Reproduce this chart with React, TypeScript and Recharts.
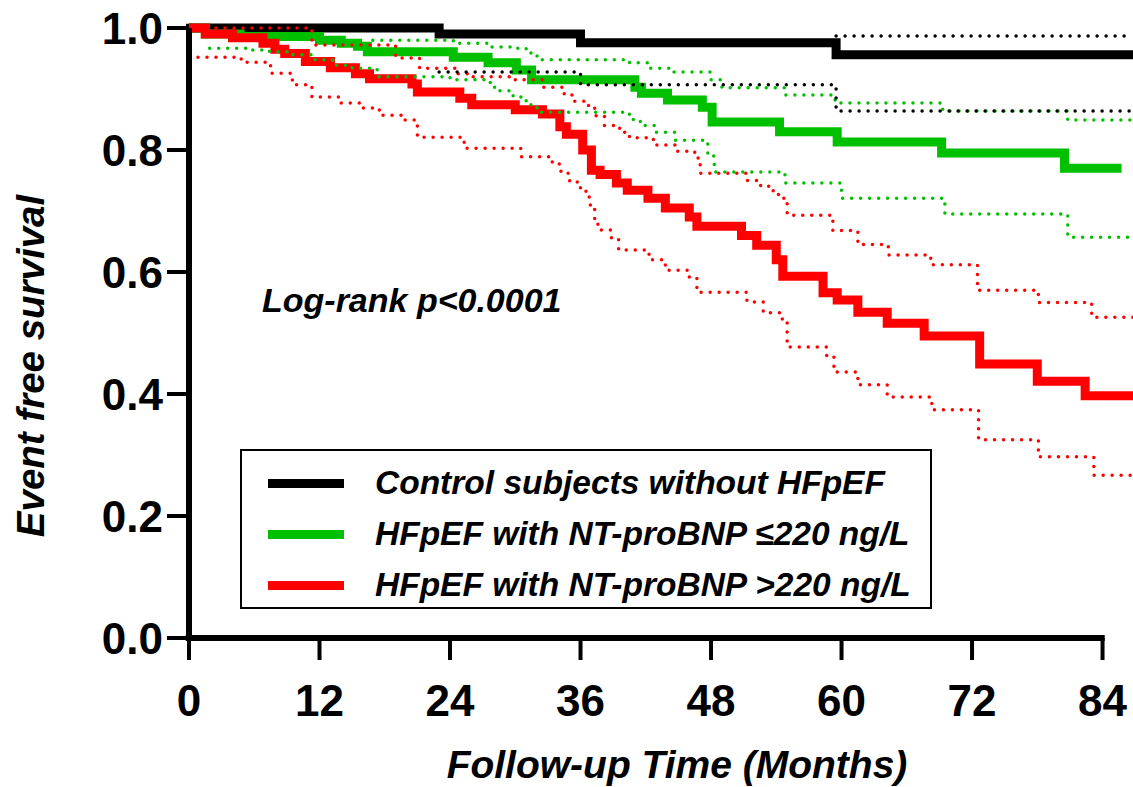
import { LineChart, Line, XAxis, YAxis, ReferenceLine, Legend } from 'recharts';

const FONT = '"Liberation Sans", Arial, Helvetica, sans-serif';
const GREEN = '#00c000';
const RED = '#ff0000';

// follow-up in months, survival as a fraction
const monthTicks = [0, 12, 24, 36, 48, 60, 72, 84];
const survivalTicks = [0, 0.2, 0.4, 0.6, 0.8, 1.0];
const END = 86.8;

// [month, survival] steps
const control = [[0, 1.0], [23, 0.99], [36, 0.976], [59.5, 0.956], [END, 0.956]];
const controlUpper = [[59.5, 0.987], [END, 0.987]];
const controlLower = [[23, 0.928], [36, 0.907], [59.5, 0.864], [END, 0.864]];

const lowBnp = [
  [0, 1.0], [1.5, 0.99], [4.7, 0.986], [12, 0.98], [14, 0.975], [15.5, 0.97], [16.4, 0.961],
  [24.3, 0.952], [27.5, 0.943], [30.1, 0.931], [31.5, 0.915], [41, 0.903], [41.6, 0.893],
  [44, 0.882], [47.2, 0.87], [48.1, 0.846], [54.3, 0.83], [59.6, 0.813], [69.2, 0.795],
  [80.5, 0.77], [85.75, 0.77],
];
const lowBnpUpper = [
  [16.9, 0.98], [24.3, 0.975], [27.7, 0.969], [29.8, 0.967], [31, 0.959], [32, 0.948],
  [40.5, 0.943], [42.2, 0.934], [44.4, 0.928], [47.9, 0.915], [49, 0.902], [54.8, 0.89],
  [59.4, 0.877], [69.3, 0.864], [80.8, 0.849], [END, 0.849],
];
const lowBnpLower = [
  [1.9, 0.967], [5.4, 0.964], [7.4, 0.961], [9.3, 0.956], [11.4, 0.948], [13.2, 0.939],
  [15, 0.934], [17.3, 0.92], [24, 0.915], [27.7, 0.906], [28.1, 0.897], [29.8, 0.887],
  [31, 0.874], [32, 0.862], [40.5, 0.85], [41.5, 0.84], [42.8, 0.829], [44.7, 0.816],
  [47.7, 0.79], [48.3, 0.764], [54.8, 0.746], [60, 0.721], [69.5, 0.695], [80.8, 0.657],
  [END, 0.657],
];

const highBnp = [
  [0, 1.0], [1.5, 0.99], [4, 0.984], [6.8, 0.975], [7.9, 0.965], [8.8, 0.958], [10.7, 0.945],
  [13, 0.935], [15.3, 0.925], [16.6, 0.917], [20.5, 0.908], [21, 0.895], [24.9, 0.885],
  [26, 0.874], [30, 0.866], [32.5, 0.859], [34.1, 0.838], [34.7, 0.826], [36.2, 0.8],
  [37, 0.767], [37.8, 0.76], [39.3, 0.746], [40.3, 0.734], [42.2, 0.721], [43.8, 0.705],
  [46, 0.69], [46.7, 0.675], [50.8, 0.66], [52.2, 0.644], [54, 0.62], [54.6, 0.593],
  [58.3, 0.566], [59.6, 0.554], [61.5, 0.534], [64.2, 0.516], [67.6, 0.495], [72.7, 0.449],
  [78, 0.421], [82.4, 0.397], [END, 0.397],
];
const highBnpUpper = [
  [0, 1.0], [11.3, 0.972], [19, 0.951], [21.2, 0.934], [24.5, 0.925], [26, 0.92], [30, 0.915],
  [32.5, 0.903], [34.5, 0.89], [35.4, 0.88], [36.6, 0.873], [37.3, 0.856], [38.2, 0.84],
  [39.6, 0.829], [40.5, 0.82], [42.7, 0.808], [44.9, 0.798], [46.5, 0.787], [47, 0.762],
  [51.2, 0.75], [52.3, 0.742], [53.3, 0.733], [54.2, 0.721], [55, 0.693], [59.2, 0.668],
  [61.5, 0.645], [64.3, 0.628], [68.2, 0.612], [72.5, 0.57], [78.1, 0.55], [83, 0.526],
  [END, 0.526],
];
const highBnpLower = [
  [0, 0.952], [4.8, 0.944], [7.5, 0.926], [9.5, 0.907], [11.3, 0.887], [13.8, 0.877],
  [15.8, 0.869], [17.5, 0.857], [19.5, 0.849], [21, 0.821], [25.3, 0.803], [30.5, 0.789],
  [33.4, 0.777], [34.2, 0.762], [35, 0.748], [35.7, 0.738], [36.5, 0.731], [36.8, 0.71],
  [37.3, 0.685], [37.6, 0.669], [38.8, 0.656], [39.5, 0.636], [42.3, 0.62], [43.8, 0.603],
  [46, 0.59], [46.7, 0.567], [51.3, 0.551], [52.8, 0.533], [54.3, 0.523], [55, 0.477],
  [58.6, 0.463], [59.3, 0.436], [61.5, 0.415], [64.2, 0.395], [68.3, 0.374], [72.6, 0.325],
  [78.1, 0.297], [83.2, 0.267], [END, 0.267],
];

const legendLabels = [
  'Control subjects without HFpEF',
  'HFpEF with NT-proBNP ≤220 ng/L',
  'HFpEF with NT-proBNP >220 ng/L',
];
const legendColors = ['#000', GREEN, RED];

const toPoints = (steps: number[][]) => steps.map(([t, s]) => ({ t, s }));

const mainCurves = [
  { id: 'control', steps: control, color: '#000' },
  { id: 'low', steps: lowBnp, color: GREEN },
  { id: 'high', steps: highBnp, color: RED },
];
const ciCurves = [
  { id: 'lowUp', steps: lowBnpUpper, color: GREEN },
  { id: 'lowLo', steps: lowBnpLower, color: GREEN },
  { id: 'highUp', steps: highBnpUpper, color: RED },
  { id: 'highLo', steps: highBnpLower, color: RED },
  { id: 'ctrlUp', steps: controlUpper, color: '#000' },
  { id: 'ctrlLo', steps: controlLower, color: '#000' },
];

const titleStyle = { fontFamily: FONT, fontWeight: 700, fontStyle: 'italic' as const, fill: '#000' };

const XTitle = ({ viewBox }: any) => (
  <text x={677} y={viewBox.y + 140} textAnchor="middle" style={{ ...titleStyle, fontSize: 39 }}>
    Follow-up Time (Months)
  </text>
);

const YTitle = () => (
  <text x={44} y={366} transform="rotate(-90, 44, 366)" textAnchor="middle" style={{ ...titleStyle, fontSize: 38.5 }}>
    Event free survival
  </text>
);

function LegendBox() {
  return (
    <div style={{ position: 'relative', width: 692, height: 160, boxSizing: 'border-box', border: '2px solid #000', background: '#fff' }}>
      {legendLabels.map((label, i) => (
        <div key={label} style={{ position: 'absolute', left: 0, top: 12 + i * 51, height: 40, display: 'flex', alignItems: 'center' }}>
          <div style={{ marginLeft: 26, width: 76, height: 9, background: legendColors[i] }} />
          <span style={{ marginLeft: 31, fontFamily: FONT, fontSize: 33.5, fontWeight: 700, fontStyle: 'italic', whiteSpace: 'nowrap', lineHeight: '40px', color: '#000' }}>
            {label}
          </span>
        </div>
      ))}
    </div>
  );
}

export default function App() {
  const tickStyle = { fill: '#000', fontSize: 44, fontWeight: 700, fontFamily: FONT };
  return (
    <div style={{ position: 'absolute', left: 0, top: 0, width: 1133, height: 787, background: '#fff' }}>
      <LineChart width={1133} height={787} margin={{ top: 28, right: 0, bottom: 0, left: 109 }}>
        <XAxis
          type="number"
          dataKey="t"
          domain={[0, END]}
          ticks={monthTicks}
          axisLine={false}
          tickLine={{ stroke: '#000', strokeWidth: 4 }}
          tickSize={22}
          tickMargin={25}
          tick={tickStyle}
          height={149}
          label={<XTitle />}
        />
        <YAxis
          type="number"
          dataKey="s"
          domain={[0, 1]}
          ticks={survivalTicks}
          tickFormatter={(v: number) => v.toFixed(1)}
          axisLine={{ stroke: '#000', strokeWidth: 6 }}
          tickLine={{ stroke: '#000', strokeWidth: 4 }}
          tickSize={22}
          tickMargin={4}
          tick={tickStyle}
          width={80}
          label={<YTitle />}
        />
        <ReferenceLine segment={[{ x: -0.3, y: 0 }, { x: 84.2, y: 0 }]} stroke="#000" strokeWidth={6} ifOverflow="visible" />
        <ReferenceLine segment={[{ x: 0, y: 0 }, { x: 0, y: 1.007 }]} stroke="#000" strokeWidth={6} ifOverflow="visible" />
        {mainCurves.map((c) => (
          <Line
            key={c.id}
            data={toPoints(c.steps)}
            dataKey="s"
            type="stepAfter"
            stroke={c.color}
            strokeWidth={9}
            dot={false}
            activeDot={false}
            legendType="none"
            isAnimationActive={false}
          />
        ))}
        {ciCurves.map((c) => (
          <Line
            key={c.id}
            data={toPoints(c.steps)}
            dataKey="s"
            type="stepAfter"
            stroke={c.color}
            strokeWidth={3.5}
            strokeDasharray="0 9"
            strokeLinecap="round"
            dot={false}
            activeDot={false}
            legendType="none"
            isAnimationActive={false}
          />
        ))}
        <Legend
          layout="vertical"
          align="center"
          verticalAlign="middle"
          wrapperStyle={{ left: 240, top: 449, width: 692, height: 160 }}
          content={() => <LegendBox />}
        />
      </LineChart>
      <div style={{ position: 'absolute', left: 262, top: 283, fontFamily: FONT, fontSize: 34, fontWeight: 700, fontStyle: 'italic', lineHeight: 1, whiteSpace: 'nowrap', color: '#000' }}>
        Log-rank p&lt;0.0001
      </div>
    </div>
  );
}
